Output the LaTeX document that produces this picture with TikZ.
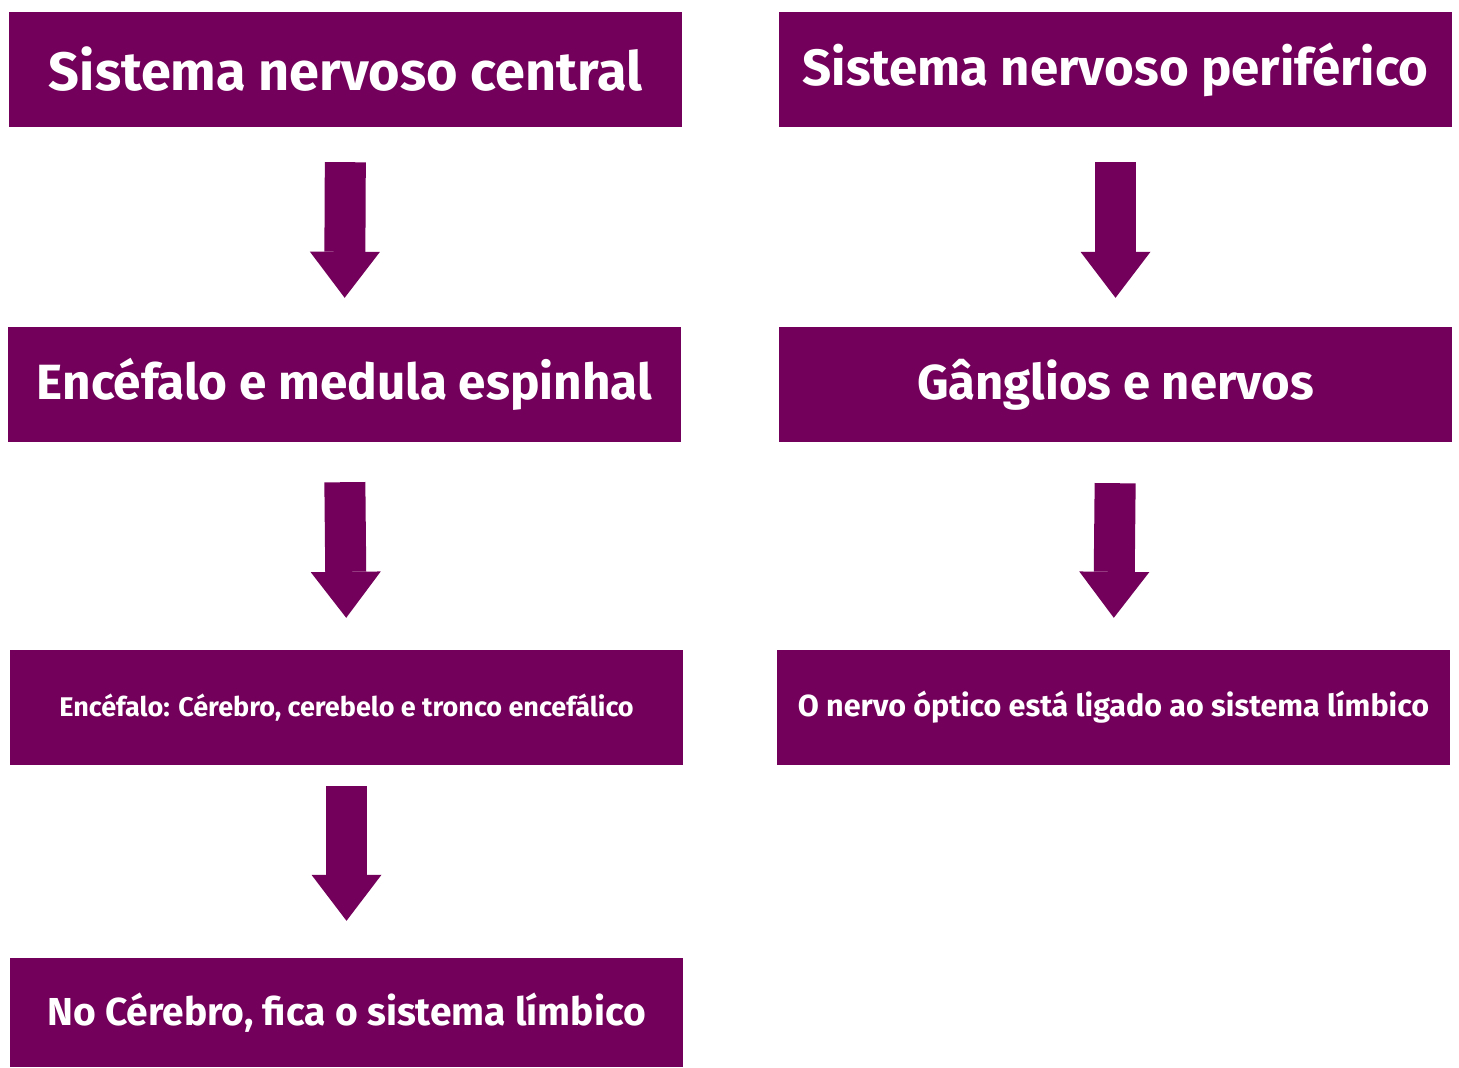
\documentclass[tikz,border=0pt]{standalone}
\usepackage{fontspec}
\setmainfont{Fira Sans}
\usetikzlibrary{arrows.meta}
\definecolor{plum}{RGB}{115,0,90}
\newcommand\fsz[1]{\bfseries\fontsize{#1}{#1}\selectfont}
\begin{document}
\begin{tikzpicture}[x=1pt,y=-1pt,
  box/.style={fill=plum, text=white, minimum width=673pt, minimum height=115pt, inner sep=0pt},
  barrow/.style={plum, line width=41pt, shorten <=35pt, shorten >=29pt,
    -{Triangle[width=70pt 0 0, length=46pt 0 0, line width=0pt]}}]
\useasboundingbox (0,0) rectangle (1459,1068);
\node[box,font=\fsz{54}] (cns) at (345.5,69.5) {Sistema nervoso central};
\node[box,font=\fsz{51}] (pns) at (1115.5,69.5) {Sistema nervoso periférico};
\node[box,font=\fsz{49.5}] (enc) at (344.5,384.5) {Encéfalo e medula espinhal};
\node[box,font=\fsz{49}] (gan) at (1115.5,384.5) {Gânglios e nervos};
\node[box,font=\fsz{27}] (cer) at (346.5,707.5) {Encéfalo: Cérebro, cerebelo e tronco encefálico};
\node[box,font=\fsz{30.5}] (opt) at (1113.5,707.5) {O nervo óptico está ligado ao sistema límbico};
\node[box,font=\fsz{39},minimum height=109pt] (lim) at (346.5,1012.5) {No Cérebro, fica o sistema límbico};
\draw[barrow] (cns.south) -- (enc.north);
\draw[barrow] (pns.south) -- (gan.north);
\draw[barrow] ([yshift=-5pt]enc.south) -- ([yshift=3pt]cer.north);
\draw[barrow] ([yshift=-6pt]gan.south) -- ([yshift=3pt]opt.north);
\draw[barrow] ([yshift=14pt]cer.south) -- ([yshift=8pt]lim.north);
\end{tikzpicture}
\end{document}
